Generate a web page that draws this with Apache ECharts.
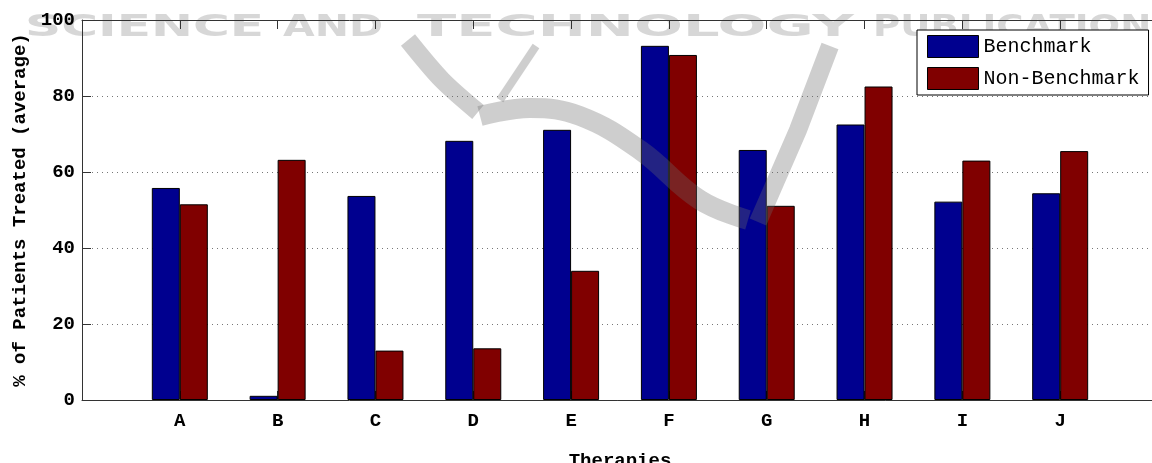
<!DOCTYPE html>
<html>
<head>
<meta charset="utf-8">
<script src="https://cdn.jsdelivr.net/npm/echarts@6/dist/echarts.min.js"></script>
<style>
  html, body { margin: 0; padding: 0; background: #fff; }
  #chart { width: 1152px; height: 463px; }
</style>
</head>
<body>
<div id="chart"></div>
<script>
// data
const therapies = ['A', 'B', 'C', 'D', 'E', 'F', 'G', 'H', 'I', 'J'];
const benchmark = [55.8, 1.1, 53.7, 68.2, 71.1, 93.2, 65.8, 72.5, 52.2, 54.4];
const nonBenchmark = [51.5, 63.2, 13.0, 13.6, 34.0, 90.8, 51.1, 82.5, 63.0, 65.5];
const yTicks = [0, 20, 40, 60, 80, 100];
const seriesNames = ['Benchmark', 'Non-Benchmark'];

const mono = '"Liberation Mono", "Courier New", monospace';

// matlab-like axis: an empty slot on each side of the categories
const xData = [''].concat(therapies, ['']);
const pad = arr => ['-'].concat(arr, ['-']);

// watermark words, stretched to the width they take in the picture
const wmWords = [
  ['SCIENCE', 25, 264],
  ['AND', 283, 383],
  ['TECHNOLOGY', 417, 854],
  ['PUBLICATIONS', 873, 1178]
];
const wmFont = 'bold 31px "DejaVu Sans"';
const ctx = document.createElement('canvas').getContext('2d');
ctx.font = wmFont;
const wmText = wmWords.map(([w, x0, x1]) => ({
  type: 'text',
  x: x0,
  y: 28,
  scaleX: (x1 - x0) / ctx.measureText(w).width,
  z: 0,
  silent: true,
  style: {
    text: w,
    font: wmFont,
    fill: 'rgba(150,150,150,0.38)',
    verticalAlign: 'middle'
  }
}));

const swooshColor = 'rgba(105,105,105,0.33)';
const swoosh = [
  { type: 'polyline', z: 100, silent: true,
    shape: { points: [[408, 40], [442, 80], [478, 112]], smooth: 0.3 },
    style: { stroke: swooshColor, lineWidth: 18, fill: null } },
  { type: 'polyline', z: 100, silent: true,
    shape: { points: [[536, 46], [500, 100]] },
    style: { stroke: swooshColor, lineWidth: 8, fill: null } },
  { type: 'polyline', z: 100, silent: true,
    shape: { points: [[480, 116], [530, 108], [580, 116], [640, 150], [700, 200], [748, 220]], smooth: 0.4 },
    style: { stroke: swooshColor, lineWidth: 20, fill: null } },
  { type: 'polyline', z: 100, silent: true,
    shape: { points: [[758, 222], [798, 130], [830, 46]] },
    style: { stroke: swooshColor, lineWidth: 18, fill: null } }
];

const chart = echarts.init(document.getElementById('chart'));
chart.setOption({
  animation: false,
  backgroundColor: '#fff',
  grid: { left: 82, top: 20, width: 1076, height: 380, containLabel: false, outerBoundsMode: 'none' },
  legend: {
    data: seriesNames,
    orient: 'vertical',
    left: 917,
    top: 30,
    padding: [5, 9, 5, 10],
    itemGap: 9,
    itemWidth: 51,
    itemHeight: 22,
    icon: 'rect',
    selectedMode: false,
    backgroundColor: '#fff',
    borderColor: '#000',
    borderWidth: 1,
    itemStyle: { borderColor: '#000', borderWidth: 1 },
    textStyle: { fontFamily: mono, fontSize: 20, color: '#000' }
  },
  xAxis: [
    {
      type: 'category',
      data: xData,
      boundaryGap: false,
      name: 'Therapies',
      nameLocation: 'middle',
      nameGap: 52,
      nameTextStyle: { fontFamily: mono, fontSize: 19, fontWeight: 'bold', color: '#000' },
      axisLine: { lineStyle: { color: '#333', width: 1 } },
      axisTick: { inside: true, length: 9, interval: 0, lineStyle: { color: '#333' } },
      axisLabel: { interval: 0, margin: 12, fontFamily: mono, fontSize: 19, fontWeight: 'bold', color: '#000' },
      splitLine: { show: false }
    },
    {
      type: 'category',
      data: xData,
      boundaryGap: false,
      position: 'top',
      axisLine: { lineStyle: { color: '#333', width: 1 } },
      axisTick: { inside: true, length: 9, interval: 0, lineStyle: { color: '#333' } },
      axisLabel: { show: false },
      splitLine: { show: false }
    }
  ],
  yAxis: {
    type: 'value',
    min: yTicks[0],
    max: yTicks[yTicks.length - 1],
    interval: 20,
    name: '% of Patients Treated (average)',
    nameLocation: 'middle',
    nameGap: 52,
    nameTextStyle: { fontFamily: mono, fontSize: 19, fontWeight: 'bold', color: '#000' },
    axisLine: { show: true, lineStyle: { color: '#333', width: 1 } },
    axisTick: { show: true, inside: true, length: 9, lineStyle: { color: '#333' } },
    axisLabel: { margin: 7, fontFamily: mono, fontSize: 19, fontWeight: 'bold', color: '#000' },
    splitLine: { show: true, lineStyle: { color: '#777', width: 1, type: [1, 4] } }
  },
  series: [
    {
      name: seriesNames[0],
      type: 'bar',
      data: pad(benchmark),
      barWidth: 28,
      barGap: '0%',
      itemStyle: { color: '#00008f', borderColor: '#000', borderWidth: 1 }
    },
    {
      name: seriesNames[1],
      type: 'bar',
      data: pad(nonBenchmark),
      barWidth: 28,
      barGap: '0%',
      itemStyle: { color: '#800000', borderColor: '#000', borderWidth: 1 }
    }
  ],
  graphic: wmText.concat(swoosh)
});
</script>
</body>
</html>
